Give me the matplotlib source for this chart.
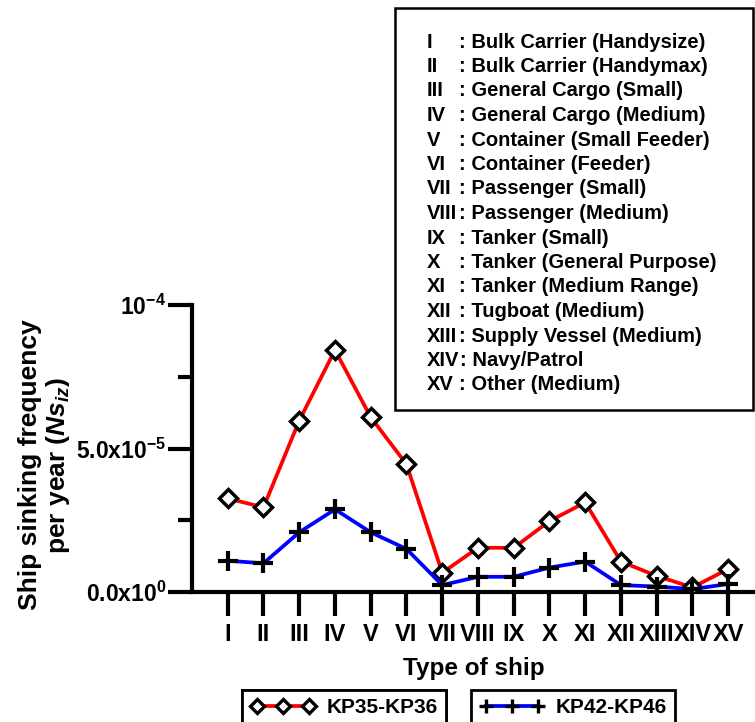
import numpy as np
import matplotlib
matplotlib.use("Agg")
import matplotlib.pyplot as plt
from matplotlib.ticker import FixedLocator

plt.rcParams["font.family"] = ["Liberation Sans", "DejaVu Sans"]
plt.rcParams["font.weight"] = "bold"
plt.rcParams["mathtext.fontset"] = "custom"
plt.rcParams["mathtext.rm"] = "Liberation Sans:bold"
plt.rcParams["mathtext.bf"] = "Liberation Sans:bold"
plt.rcParams["mathtext.it"] = "Liberation Sans:bold:italic"

ship_types = ["I", "II", "III", "IV", "V", "VI", "VII", "VIII", "IX", "X",
              "XI", "XII", "XIII", "XIV", "XV"]
ship_names = ["Bulk Carrier (Handysize)", "Bulk Carrier (Handymax)",
              "General Cargo (Small)", "General Cargo (Medium)",
              "Container (Small Feeder)", "Container (Feeder)",
              "Passenger (Small)", "Passenger (Medium)", "Tanker (Small)",
              "Tanker (General Purpose)", "Tanker (Medium Range)",
              "Tugboat (Medium)", "Supply Vessel (Medium)", "Navy/Patrol",
              "Other (Medium)"]

kp35_kp36 = [3.26e-5, 2.95e-5, 5.97e-5, 8.43e-5, 6.09e-5, 4.45e-5, 0.67e-5,
             1.54e-5, 1.54e-5, 2.47e-5, 3.12e-5, 1.06e-5, 0.56e-5, 0.16e-5,
             0.80e-5]
kp42_kp46 = [1.09e-5, 1.00e-5, 2.08e-5, 2.88e-5, 2.08e-5, 1.50e-5, 0.24e-5,
             0.53e-5, 0.53e-5, 0.85e-5, 1.06e-5, 0.24e-5, 0.19e-5, 0.10e-5,
             0.28e-5]

W, H = 755, 722
fig = plt.figure(figsize=(W / 100, H / 100), dpi=100)
ax = fig.add_axes([192 / W, (H - 592) / H, (W - 192) / W, 287 / H])

x = np.arange(len(ship_types))
l1, = ax.plot(x, kp35_kp36, color="red", lw=2.7, marker="D", ms=9,
              mfc="white", mec="black", mew=2.5, label="KP35-KP36", zorder=3)
l2, = ax.plot(x, kp42_kp46, color="blue", lw=2.7, marker="+", ms=14,
              mec="black", mew=3, label="KP42-KP46", zorder=3)

ax.set_xlim(-1.0, 14.75)
ax.set_ylim(0, 1e-4)
ax.spines["top"].set_visible(False)
ax.spines["right"].set_visible(False)
ax.spines["left"].set_linewidth(3)
ax.spines["bottom"].set_linewidth(3)
ax.spines["bottom"].set_zorder(1)

ax.set_xticks(x)
ax.set_xticklabels(ship_types, fontsize=17, fontweight="bold")
ax.set_yticks([0, 5e-5, 1e-4])
ax.set_yticklabels([r"0.0x10$^{0}$", r"5.0x10$^{-5}$", r"10$^{-4}$"],
                   fontsize=16.5, fontweight="bold")
ax.yaxis.set_minor_locator(FixedLocator([2.5e-5, 7.5e-5]))
ax.tick_params(axis="x", which="major", direction="out", length=17,
               width=3, pad=5)
ax.tick_params(axis="y", which="major", direction="out", length=17,
               width=3, pad=1.5)
ax.tick_params(axis="y", which="minor", direction="out", length=10, width=3)

ax.set_xlabel("Type of ship", fontsize=17.5, fontweight="bold", labelpad=8)
fig.text(45 / W, 1 - 465 / H,
         "Ship sinking frequency\nper year ($\\mathit{Ns}_{\\mathit{iz}}$)",
         rotation=90, ha="center", va="center", fontsize=19,
         fontweight="bold", linespacing=1.05)

# ship-type key box
box = plt.Rectangle((395 / W, 1 - 410 / H), 358 / W, 402 / H,
                    transform=fig.transFigure, fill=False, ec="black", lw=1.8)
fig.add_artist(box)
renderer = fig.canvas.get_renderer()
for i, (roman, name) in enumerate(zip(ship_types, ship_names)):
    yy = 1 - (42 + i * 24.5) / H
    t = fig.text(427 / W, yy, roman, fontsize=14.5, fontweight="bold",
                 va="center")
    bb = t.get_window_extent(renderer)
    cx = max(459 / W, bb.x1 / W + 1 / W)
    fig.text(cx, yy, ": " + name, fontsize=14.5, fontweight="bold",
             va="center")

# two separate legends at the bottom
legs = []
for handle, x0 in ((l1, 242), (l2, 471)):
    leg = fig.legend(handles=[handle], loc="upper left",
                     bbox_to_anchor=(x0 / W, 1 - 690 / H), fontsize=15,
                     numpoints=3, handlelength=3.1, handletextpad=0.55,
                     borderpad=0.4, borderaxespad=0, fancybox=False,
                     edgecolor="black", framealpha=1)
    leg.get_frame().set_linewidth(2)
    for h in leg.legend_handles:
        h.set_markersize(7 if h.get_marker() == "D" else 10)
        h.set_markeredgewidth(2.4)
    legs.append(leg)
fig.add_artist(legs[0])

fig.savefig("out.png", dpi=100)
